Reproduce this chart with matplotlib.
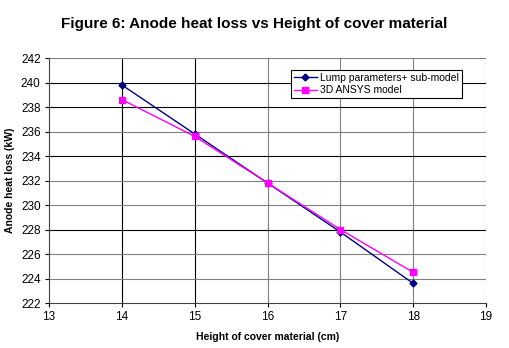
import matplotlib.pyplot as plt

plt.rcParams['font.family'] = ['Liberation Sans', 'DejaVu Sans']

height = [14, 15, 16, 17, 18]
lump = [239.8, 235.8, 231.8, 227.8, 223.6]
ansys = [238.6, 235.6, 231.8, 228.0, 224.5]

fig = plt.figure(figsize=(5.09, 3.48), dpi=100)
ax = fig.add_axes([0.0963, 0.1293, 0.8585, 0.704])

ax.plot(height, lump, color='#000080', marker='D', markersize=3.5, lw=1.0,
        label='Lump parameters+ sub-model', zorder=3)
ax.plot(height, ansys, color='#FF00FF', marker='s', markersize=5, lw=1.0,
        label='3D ANSYS model', zorder=3)

ax.set_xlim(13, 19)
ax.set_ylim(222, 242)
ax.set_xticks(range(13, 20))
ax.set_yticks(range(222, 243, 2))
ax.tick_params(labelsize=8.5, direction='out', length=3, width=0.8, pad=3)

# gridlines, dark ones and grey ones like the original
dark_x = [14, 15]
dark_y = [228, 234, 238, 240]
for x in range(14, 20):
    ax.axvline(x, color='black' if x in dark_x else '#808080', lw=0.8, zorder=1)
for y in range(224, 243, 2):
    ax.axhline(y, color='black' if y in dark_y else '#808080', lw=0.8, zorder=1)

for s in ['top', 'right']:
    ax.spines[s].set_visible(False)
ax.spines['left'].set_color('#404040')
ax.spines['bottom'].set_color('#404040')

ax.set_xlabel('Height of cover material (cm)', fontsize=7.5, fontweight='bold', labelpad=6)
ax.set_ylabel('Anode heat loss (kW)', fontsize=7.5, fontweight='bold', labelpad=4)
fig.suptitle('Figure 6: Anode heat loss vs Height of cover material',
             fontsize=11, fontweight='bold', y=0.95)

leg = ax.legend(loc='upper right', bbox_to_anchor=(0.945, 0.951), fontsize=7.5,
                frameon=True, fancybox=False, edgecolor='black', framealpha=1,
                handlelength=2.2, handletextpad=0.3, borderpad=0.3, labelspacing=0.2,
                borderaxespad=0)
leg.get_frame().set_linewidth(0.8)

fig.savefig('out.png', dpi=100)
